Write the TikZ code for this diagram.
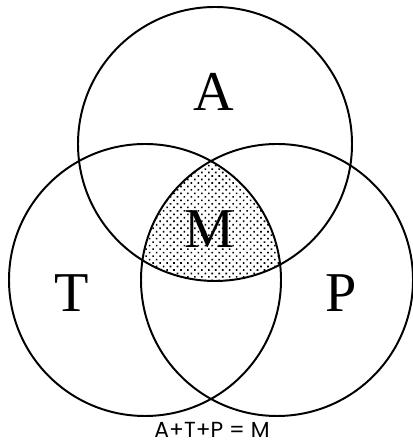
\documentclass[tikz,border=0pt]{standalone}
\usepackage{fontspec}
\setmainfont{Liberation Serif}
\newfontfamily\capfont{Poppins}
\usetikzlibrary{patterns.meta}

\tikzset{
  ring/.style={line width=1.4pt},
  bigletter/.style={font=\fontsize{40}{40}\selectfont},
  caption/.style={font=\capfont\fontsize{15.5}{15.5}\selectfont,inner sep=0pt,anchor=base}
}

\begin{document}
\begin{tikzpicture}[x=0.025cm,y=0.025cm]

\useasboundingbox (0,0) rectangle (412,444);

% Centres
\coordinate (cA) at (215,300);
\coordinate (cT) at (145,164);
\coordinate (cP) at (277,164);

% Shaded common part
\begin{scope}
  \clip (cT) circle[radius=136];
  \clip (cP) circle[radius=136];
  \fill[pattern={Dots[distance=3.5pt,radius=0.8pt,angle=45]}] (cA) circle[radius=137];
\end{scope}

% Circles
\draw[ring] (cA) circle[radius=137];
\draw[ring] (cT) circle[radius=136];
\draw[ring] (cP) circle[radius=136];

% Labels
\node[bigletter] (labA) at (214,352) {A};
\node[bigletter] (labT) at (72,151) {T};
\node[bigletter] (labP) at (341,151) {P};
\node[bigletter] (labM) at (210,215) {M};
\node[caption] (formula) at (212,6) {A+T+P = M};

\end{tikzpicture}
\end{document}
